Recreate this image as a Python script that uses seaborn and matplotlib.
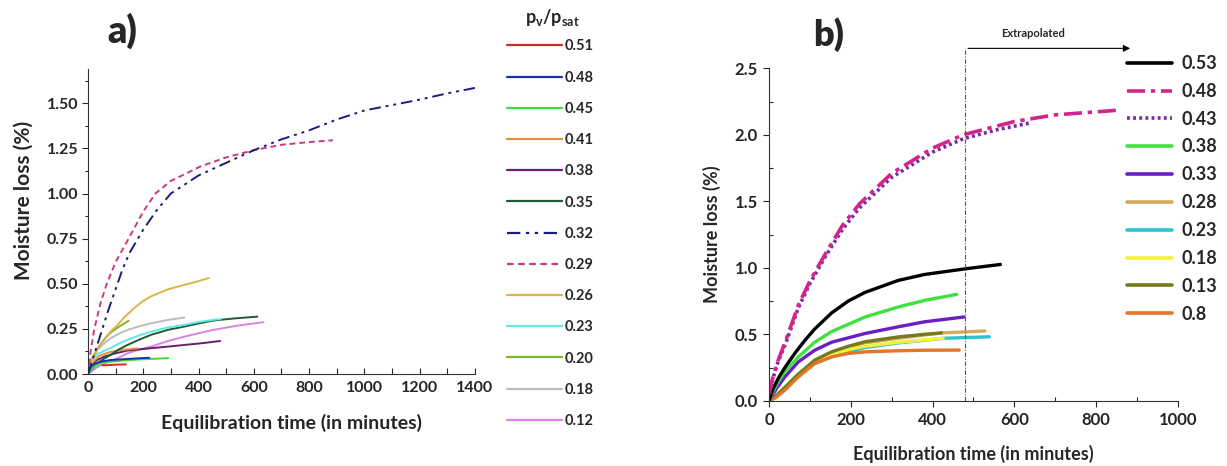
import matplotlib
matplotlib.use("Agg")
import matplotlib.pyplot as plt
import seaborn as sns
import numpy as np
import pandas as pd
from matplotlib.ticker import MultipleLocator

# ---------------- Panel a data ----------------
a_labels = ["0.51", "0.48", "0.45", "0.41", "0.38", "0.35", "0.32", "0.29",
            "0.26", "0.23", "0.20", "0.18", "0.12"]

a_t051 = [52, 80, 105, 137]
a_v051 = [0.048, 0.05, 0.052, 0.053]
a_t048 = [0, 10, 25, 50, 80, 119, 170, 222]
a_v048 = [0.0, 0.04, 0.058, 0.07, 0.077, 0.081, 0.086, 0.09]
a_t045 = [0, 20, 50, 107, 153, 220, 290]
a_v045 = [0.0, 0.04, 0.062, 0.072, 0.078, 0.083, 0.088]
a_t041 = [0, 15, 40, 80, 116, 150, 180]
a_v041 = [0.0, 0.06, 0.1, 0.122, 0.132, 0.138, 0.142]
a_t038 = [0, 15, 30, 58, 100, 143, 228, 290, 349, 420, 478]
a_v038 = [0.0, 0.05, 0.075, 0.096, 0.115, 0.13, 0.143, 0.152, 0.161, 0.172, 0.183]
a_t035 = [0, 15, 34, 58, 82, 110, 143, 185, 228, 290, 349, 400, 452, 530, 613]
a_v035 = [0.0, 0.03, 0.059, 0.085, 0.106, 0.135, 0.161, 0.19, 0.217, 0.245, 0.263,
          0.28, 0.296, 0.308, 0.318]
a_t032 = [0, 25, 50, 75, 100, 125, 150, 200, 250, 300, 400, 500, 600, 700, 800,
          900, 1000, 1100, 1200, 1300, 1400]
a_v032 = [0.0, 0.12, 0.24, 0.36, 0.47, 0.58, 0.67, 0.8, 0.91, 1.0, 1.1, 1.17, 1.24,
          1.3, 1.35, 1.41, 1.46, 1.49, 1.52, 1.555, 1.585]
a_t029 = [0, 10, 23, 45, 68, 100, 147, 200, 244, 300, 407, 500, 600, 700, 800, 886]
a_v029 = [0.0, 0.13, 0.25, 0.39, 0.5, 0.62, 0.75, 0.9, 1.0, 1.07, 1.15, 1.2, 1.24,
          1.27, 1.285, 1.295]
a_t026 = [0, 10, 22, 40, 58, 80, 107, 135, 167, 200, 228, 290, 349, 400, 437]
a_v026 = [0.03, 0.07, 0.105, 0.155, 0.19, 0.232, 0.272, 0.32, 0.365, 0.405, 0.43,
          0.47, 0.494, 0.515, 0.532]
a_t020 = [0, 10, 28, 45, 58, 75, 95, 120, 147]
a_v020 = [0.03, 0.07, 0.124, 0.165, 0.19, 0.22, 0.244, 0.27, 0.295]
a_t023 = [0, 10, 34, 58, 82, 110, 143, 185, 228, 290, 349, 400, 452, 480]
a_v023 = [0.04, 0.07, 0.11, 0.128, 0.143, 0.167, 0.189, 0.214, 0.235, 0.258, 0.272,
          0.288, 0.3, 0.304]
a_t018 = [0, 10, 34, 58, 82, 110, 143, 185, 228, 290, 349]
a_v018 = [0.03, 0.07, 0.133, 0.17, 0.198, 0.222, 0.244, 0.264, 0.281, 0.3, 0.313]
a_t012 = [0, 30, 60, 107, 143, 185, 228, 290, 349, 400, 452, 540, 635]
a_v012 = [0.0, 0.035, 0.06, 0.087, 0.115, 0.135, 0.152, 0.183, 0.207, 0.226, 0.244,
          0.268, 0.287]

a_times = [a_t051, a_t048, a_t045, a_t041, a_t038, a_t035, a_t032, a_t029,
           a_t026, a_t023, a_t020, a_t018, a_t012]
a_values = [a_v051, a_v048, a_v045, a_v041, a_v038, a_v035, a_v032, a_v029,
            a_v026, a_v023, a_v020, a_v018, a_v012]
a_colors = ["#d8262a", "#1f2fa8", "#3ddc3d", "#e0913f", "#6b1d6e", "#1f5a34",
            "#1c1c7c", "#c83a82", "#dcb448", "#5ee8e6", "#7cb22e", "#bcbcbc", "#d884e2"]
a_styles = ["-", "-", "-", "-", "-", "-", (0, (6, 2.5, 1.5, 2.5, 1.5, 2.5)),
            (0, (3, 2)), "-", "-", "-", "-", "-"]
a_order = [12, 4, 3, 5, 9, 11, 10, 8, 2, 1, 0, 7, 6]

# ---------------- Panel b data ----------------
b_labels = ["0.53", "0.48", "0.43", "0.38", "0.33", "0.28", "0.23", "0.18", "0.13", "0.8"]

b_t053 = [0, 10, 23, 39, 64, 88, 112, 153, 194, 235, 316, 381, 487, 566]
b_v053 = [0.0, 0.09, 0.17, 0.25, 0.36, 0.455, 0.54, 0.66, 0.75, 0.815, 0.905, 0.95,
          0.995, 1.025]
b_t048 = [0, 10, 22, 43, 72, 100, 137, 180, 221, 300, 400, 475, 550, 600, 700, 854]
b_v048 = [0.05, 0.18, 0.3, 0.47, 0.72, 0.9, 1.1, 1.32, 1.48, 1.71, 1.9, 2.0, 2.06,
          2.1, 2.15, 2.185]
b_t043 = [0, 10, 22, 43, 72, 100, 137, 180, 221, 300, 400, 475, 560, 640]
b_v043 = [0.05, 0.17, 0.29, 0.45, 0.7, 0.88, 1.08, 1.29, 1.45, 1.68, 1.87, 1.97,
          2.04, 2.09]
b_t038 = [0, 10, 20, 39, 72, 112, 153, 235, 316, 381, 459]
b_v038 = [0.0, 0.07, 0.13, 0.22, 0.33, 0.44, 0.52, 0.63, 0.705, 0.755, 0.8]
b_t033 = [0, 10, 20, 39, 72, 112, 153, 235, 316, 381, 477]
b_v033 = [0.0, 0.05, 0.1, 0.18, 0.293, 0.38, 0.44, 0.506, 0.556, 0.594, 0.63]
b_t028 = [0, 15, 39, 72, 112, 153, 194, 235, 316, 381, 422, 528]
b_v028 = [0.0, 0.03, 0.1, 0.2, 0.3, 0.36, 0.4, 0.435, 0.47, 0.495, 0.51, 0.525]
b_t023 = [0, 15, 39, 72, 112, 153, 194, 235, 316, 381, 428, 539]
b_v023 = [0.0, 0.03, 0.1, 0.2, 0.28, 0.33, 0.37, 0.4, 0.435, 0.455, 0.47, 0.481]
b_t018 = [0, 15, 39, 72, 112, 153, 194, 235, 316, 381, 426]
b_v018 = [0.0, 0.03, 0.1, 0.2, 0.29, 0.345, 0.385, 0.41, 0.44, 0.458, 0.47]
b_t013 = [0, 15, 39, 72, 112, 153, 194, 235, 316, 381, 422]
b_v013 = [0.0, 0.03, 0.1, 0.2, 0.306, 0.368, 0.41, 0.444, 0.48, 0.5, 0.51]
b_t08 = [0, 15, 39, 72, 112, 153, 194, 235, 316, 381, 465]
b_v08 = [0.0, 0.02, 0.08, 0.18, 0.28, 0.33, 0.356, 0.368, 0.376, 0.38, 0.381]

b_times = [b_t053, b_t048, b_t043, b_t038, b_t033, b_t028, b_t023, b_t018, b_t013, b_t08]
b_values = [b_v053, b_v048, b_v043, b_v038, b_v033, b_v028, b_v023, b_v018, b_v013, b_v08]
b_colors = ["#000000", "#d3248c", "#7a2aa6", "#3fe03f", "#6a1ec4", "#d6aa5e",
            "#2fc2cc", "#f2f23c", "#767a1e", "#e2762a"]
b_styles = ["-", (0, (5, 1.6, 1.2, 1.6)), (0, (0.8, 0.9)), "-", "-", "-", "-", "-", "-", "-"]
# draw order so that later entries sit on top as in the reference
b_order = [5, 6, 7, 8, 9, 4, 3, 0, 2, 1]

# ---------------- Figure ----------------
sns.set_theme(style="ticks")
plt.rcParams["font.family"] = ["Lato", "DejaVu Sans"]
plt.rcParams["font.weight"] = "bold"
plt.rcParams["mathtext.fontset"] = "custom"
plt.rcParams["mathtext.bf"] = "Lato:bold"
plt.rcParams["mathtext.rm"] = "Lato:bold"
plt.rcParams["mathtext.it"] = "Lato:bold"

fig = plt.figure(figsize=(12.27, 4.66), dpi=100)
axa = fig.add_axes([0.0717, 0.1974, 0.3154, 0.6546])
axb = fig.add_axes([0.6267, 0.140, 0.3333, 0.7134])

# panel a
for i in a_order:
    df = pd.DataFrame({"t": a_times[i], "v": a_values[i]})
    sns.lineplot(data=df, x="t", y="v", ax=axa, color=a_colors[i], linestyle=a_styles[i],
                 lw=1.4, estimator=None, sort=False, label=a_labels[i])

axa.set_xlim(0, 1400)
axa.set_ylim(0, 1.69)
axa.xaxis.set_major_locator(MultipleLocator(200))
axa.xaxis.set_minor_locator(MultipleLocator(100))
axa.yaxis.set_minor_locator(MultipleLocator(0.125))
axa.set_yticks(np.arange(0, 1.51, 0.25))
axa.set_yticklabels([f"{v:.2f}" for v in np.arange(0, 1.51, 0.25)])
axa.tick_params(axis="x", which="both", direction="in", length=4, width=0.8, labelsize=11.5, pad=5)
axa.tick_params(axis="y", which="major", direction="out", length=4, width=0.8, labelsize=11.5, pad=3)
axa.tick_params(axis="y", which="minor", direction="out", length=2.5, width=0.8)
for lab in axa.get_xticklabels() + axa.get_yticklabels():
    lab.set_fontweight("bold")
sns.despine(ax=axa)
for s in ["left", "bottom"]:
    axa.spines[s].set_linewidth(0.8)
    axa.spines[s].set_color("#333333")
axa.set_xlabel("Equilibration time (in minutes)", fontsize=14, fontweight="bold")
axa.xaxis.set_label_coords(0.525, -0.13)
axa.set_ylabel("Moisture loss (%)", fontsize=15, fontweight="bold")
axa.yaxis.set_label_coords(-0.14, 0.57)
axa.text(0.09, 1.125, "a)", transform=axa.transAxes, fontsize=27, fontweight="heavy",
         ha="center", va="center")

hmap = dict(zip(*axa.get_legend_handles_labels()[::-1]))
leg = axa.legend([hmap[l] for l in a_labels], a_labels, loc="upper left",
                 bbox_to_anchor=(507 / 1227, 1 - 39.5 / 466),
                 bbox_transform=fig.transFigure, frameon=False, fontsize=10.5,
                 handlelength=3.8, handletextpad=0.15, labelspacing=1.18, borderpad=0,
                 borderaxespad=0)
for txt in leg.get_texts():
    txt.set_fontweight("bold")
for ln in leg.get_lines():
    ln.set_linewidth(1.6)
fig.text(552 / 1227, 1 - 17 / 466, r"$\mathbf{p_{v}/p_{sat}}$", fontsize=13,
         ha="center", va="center")

# panel b
for i in b_order:
    df = pd.DataFrame({"t": b_times[i], "v": b_values[i]})
    lw = 2.6 if i in (1, 2) else 2.4
    sns.lineplot(data=df, x="t", y="v", ax=axb, color=b_colors[i], linestyle=b_styles[i],
                 lw=lw, estimator=None, sort=False, label=b_labels[i])

axb.set_xlim(0, 1000)
axb.set_ylim(0, 2.5)
axb.xaxis.set_major_locator(MultipleLocator(200))
axb.xaxis.set_minor_locator(MultipleLocator(100))
axb.yaxis.set_major_locator(MultipleLocator(0.5))
axb.yaxis.set_minor_locator(MultipleLocator(0.25))
axb.tick_params(axis="both", which="major", direction="out", length=4, width=0.8, labelsize=12, pad=4)
axb.tick_params(axis="both", which="minor", direction="in", length=3, width=0.8)
for lab in axb.get_xticklabels() + axb.get_yticklabels():
    lab.set_fontweight("bold")
sns.despine(ax=axb)
for s in ["left", "bottom"]:
    axb.spines[s].set_linewidth(0.8)
    axb.spines[s].set_color("#333333")
axb.set_xlabel("Equilibration time (in minutes)", fontsize=13, fontweight="bold", labelpad=12)
axb.set_ylabel("Moisture loss (%)", fontsize=13, fontweight="bold", labelpad=10)
axb.text(0.145, 1.1, "b)", transform=axb.transAxes, fontsize=26, fontweight="heavy",
         ha="center", va="center")

# extrapolation marker
axb.plot([480, 480], [0, 2.65], color="#555555", lw=0.8, linestyle=(0, (4, 1.5, 1, 1.5)),
         clip_on=False)
axb.annotate("", xy=(890, 2.65), xytext=(480, 2.65),
             arrowprops=dict(arrowstyle="-|>", color="black", lw=0.8, mutation_scale=10),
             annotation_clip=False)
axb.text(645, 2.76, "Extrapolated", fontsize=8, fontweight="bold", ha="center", va="center")

hmapb = dict(zip(*axb.get_legend_handles_labels()[::-1]))
legb = axb.legend([hmapb[l] for l in b_labels], b_labels, loc="upper left",
                  bbox_to_anchor=(1127 / 1227, 1 - 55 / 466),
                  bbox_transform=fig.transFigure, frameon=False, fontsize=13,
                  handlelength=2.5, handletextpad=0.5, labelspacing=0.6, borderpad=0,
                  borderaxespad=0)
for txt in legb.get_texts():
    txt.set_fontweight("bold")
for ln in legb.get_lines():
    ln.set_linewidth(2.6)

fig.savefig("out.png", dpi=100)
